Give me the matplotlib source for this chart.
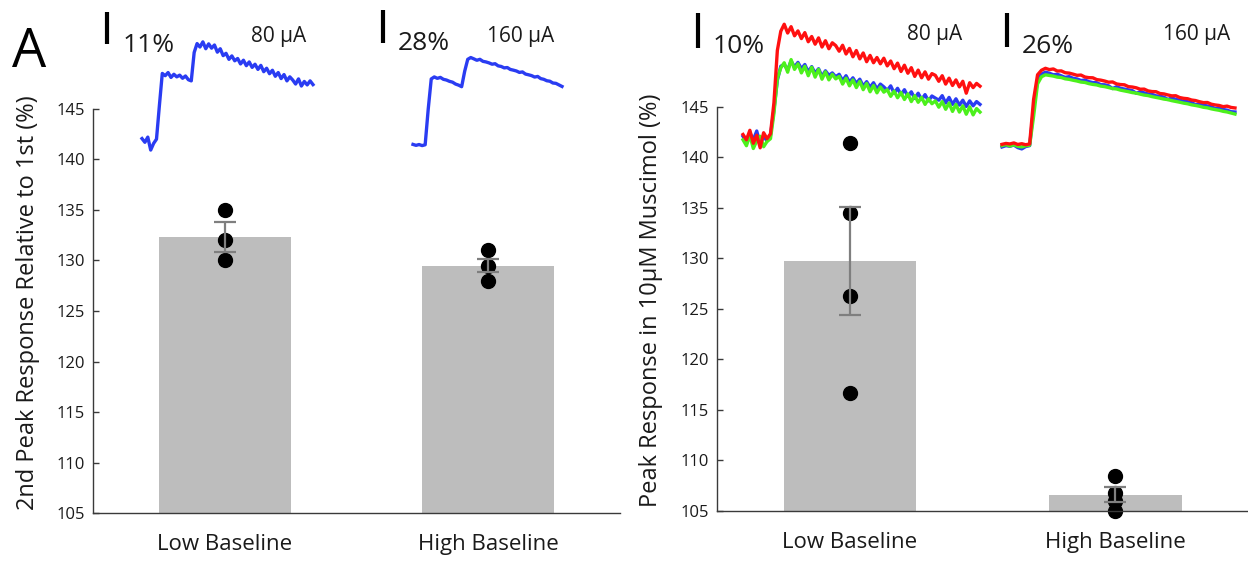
import matplotlib
matplotlib.use('Agg')
import matplotlib.pyplot as plt
from matplotlib.lines import Line2D

plt.rcParams.update({
    'font.family': 'Open Sans',
    'font.size': 12,
    'axes.linewidth': 1.0,
})

W, H = 1248, 561

groups = ['Low Baseline', 'High Baseline']

# left panel: 2nd peak response relative to 1st (%)
left_means = [132.3, 129.5]
left_sem = [1.5, 0.65]
left_low_pts = [135.0, 132.0, 130.0]
left_high_pts = [131.0, 129.5, 128.0]

# right panel: peak response in 10 uM muscimol (%)
right_means = [129.7, 106.6]
right_sem = [5.35, 0.75]
right_low_pts = [141.4, 134.5, 126.3, 116.7]
right_high_pts = [108.5, 106.8, 106.0, 105.0]

y_ticks = [105, 110, 115, 120, 125, 130, 135, 140, 145]

# example traces (% change)
trace_80_low = [0.5, -0.8, 1.0, -3.5, -1.2, 0.3,
                12.0, 23.2,
                22.4, 23.5, 21.8, 22.9, 22.0, 22.6, 21.5, 22.3, 21.0,
                20.6, 30.5, 33.6,
                32.4, 34.2, 31.8, 33.5, 32.0, 33.1,
                30.6, 31.8, 29.4, 30.2, 28.1, 29.3, 27.6,
                28.4, 26.5, 27.8, 25.9, 27.2, 25.3, 26.4, 24.6, 26.0, 23.8, 25.0,
                23.1, 24.3, 22.2, 23.5, 21.4, 22.8, 20.6, 22.0, 20.9,
                19.5, 21.3, 18.8, 20.4, 19.2, 20.6, 19.3]

trace_160_low = [0.5, -0.3, 0.4, -0.5, 0.2,
                 30.0, 55.5, 57.2,
                 56.0, 56.8, 55.2, 54.6, 53.5, 52.8, 51.2, 50.3, 49.0,
                 62.0, 72.0, 73.5,
                 72.4, 71.2, 72.0, 70.3, 69.8, 69.0, 67.9, 68.3, 66.5, 66.0,
                 64.8, 65.1, 63.5, 62.9, 62.2, 61.0, 61.4, 59.6, 59.0, 58.3,
                 57.1, 57.6, 55.8, 55.2, 54.0, 53.6, 52.1, 51.8, 50.5, 49.2]

mus_80_red = [1.0, -0.5, 2.2, -1.5, 0.8, -2.8, 1.5, -0.2, 1.2,
              10.0, 25.0, 30.5,
              32.5, 30.0, 31.8, 29.2, 30.6, 28.4, 30.1, 27.5, 29.0, 26.8, 28.6, 26.0, 27.8, 25.5, 27.2, 26.4,
              24.8, 26.5, 24.0, 25.6, 23.2, 25.0, 22.6, 24.3, 21.8, 23.6, 21.5, 23.0, 21.2, 22.8,
              20.6, 22.0, 19.8, 21.4, 19.0, 20.8, 18.5, 20.1, 17.6, 19.4, 17.2, 18.9, 16.8, 18.4, 17.9,
              16.2, 17.8, 15.4, 17.1, 15.0, 16.6, 14.6, 16.2, 12.8, 15.8, 14.4, 15.6, 14.8]
mus_80_blue = [0.5, -1.0, 1.5, -0.5, 2.0, -1.8, 0.6, -0.9, 0.8,
               8.0, 16.5, 20.5,
               21.0, 19.5, 22.0, 20.3, 21.6, 19.8, 21.0, 18.9, 20.4, 18.5, 19.8, 17.6, 19.2, 17.9, 18.6, 17.5,
               18.2, 16.4, 17.8, 15.9, 17.2, 15.6, 16.8, 14.8, 16.1, 14.5, 15.8, 14.0, 15.4, 14.6,
               13.6, 14.9, 12.8, 14.2, 12.4, 13.8, 11.9, 13.2, 11.3, 12.8, 11.0, 12.4, 10.6, 12.0, 11.4,
               10.8, 12.1, 10.0, 11.6, 9.6, 11.2, 9.4, 10.8, 9.0, 10.6, 9.2, 10.4, 9.6]
mus_80_green = [-0.5, -2.2, 0.8, -3.0, -0.8, 0.5, -2.5, -1.0, -0.2,
                7.0, 17.0, 20.0,
                21.5, 18.8, 22.4, 19.6, 21.2, 18.6, 20.5, 17.8, 20.2, 17.4, 19.6, 16.8, 18.9, 16.6, 18.2, 16.9,
                17.6, 15.4, 17.1, 14.9, 16.6, 14.4, 16.2, 13.8, 15.6, 13.2, 15.0, 12.9, 14.6, 13.1,
                13.8, 11.9, 13.4, 11.5, 13.0, 11.0, 12.6, 10.4, 12.1, 10.2, 11.6, 9.6, 11.2, 9.8, 10.6,
                8.8, 10.4, 8.2, 10.0, 7.6, 9.6, 7.4, 9.2, 6.8, 8.9, 6.6, 8.4, 7.4]

mus_160_red = [0.5, 1.2, 0.8, 1.6, 0.4, 1.0, 0.2, 0.8,
               35.0, 54.0, 57.5,
               59.0, 58.0, 58.5, 56.9, 57.0, 55.6, 55.3, 54.5, 53.6, 53.8,
               52.3, 51.8, 51.7, 50.3, 49.9, 49.2, 48.3, 48.5, 47.0, 46.5,
               46.3, 44.9, 44.6, 44.0, 42.9, 43.0, 41.6, 41.1, 41.0, 39.6,
               39.3, 38.5, 37.8, 37.9, 36.5, 35.9, 35.6, 34.6, 34.2, 33.3,
               32.6, 32.7, 31.4, 30.8, 30.4, 29.5, 29.9, 28.9, 28.5]
mus_160_blue = [-1.5, -0.5, -1.0, 0.0, -2.0, -3.0, -1.2, -0.5,
                28.0, 50.0, 54.5,
                56.0, 55.2, 54.0, 54.4, 53.2, 52.0, 52.6, 51.3, 50.8, 49.6,
                50.0, 48.7, 48.0, 47.9, 46.4, 46.3, 45.5, 43.4, 44.8, 43.6,
                43.0, 42.4, 41.8, 39.8, 41.0, 40.1, 39.2, 38.9, 37.8, 37.5,
                36.8, 35.0, 36.2, 35.1, 34.4, 33.7, 33.3, 32.6, 31.0, 31.5,
                30.7, 30.0, 29.4, 28.0, 28.5, 27.3, 26.8, 25.6, 25.4]
mus_160_green = [-0.5, 0.3, -0.8, 0.2, -1.0, -1.5, -0.6, -0.2,
                 22.0, 47.0, 52.5,
                 54.0, 53.5, 53.0, 52.2, 51.9, 50.9, 50.5, 49.8, 49.2, 48.4,
                 48.1, 47.2, 46.6, 46.2, 45.3, 44.9, 44.2, 43.4, 43.1, 42.2,
                 41.6, 41.0, 40.3, 39.9, 39.1, 38.4, 38.0, 37.2, 36.6, 36.0,
                 35.3, 34.9, 34.1, 33.5, 32.9, 32.2, 31.7, 30.9, 30.4, 29.8,
                 29.0, 28.6, 27.8, 27.2, 26.7, 25.9, 25.4, 24.6, 23.8]

BAR_COLOR = '#bdbdbd'
ERR_COLOR = '#7f7f7f'
AXIS_COLOR = '#3a3a3a'
TEXT_COLOR = '#1a1a1a'
BLUE, RED, GREEN = '#2a3cf2', '#ff1010', '#4cf01c'

fig = plt.figure(figsize=(W / 100, H / 100), dpi=100)


def bar_panel(rect, means, sem, pts_lists, ylabel):
    ax = fig.add_axes(rect)
    x = [1, 2]
    ax.bar(x, means, width=0.5, color=BAR_COLOR, zorder=1)
    for xi, pts in zip(x, pts_lists):
        ax.plot([xi] * len(pts), pts, 'o', color='black', markersize=10,
                zorder=2, clip_on=False)
    ax.errorbar(x, means, yerr=sem, fmt='none', ecolor=ERR_COLOR,
                elinewidth=1.6, capsize=8, capthick=1.6, zorder=3)
    ax.set_xlim(0.5, 2.5)
    ax.set_ylim(105, 145)
    ax.set_yticks(y_ticks)
    ax.set_xticks(x)
    ax.set_xticklabels(groups, fontsize=16, color=TEXT_COLOR)
    ax.tick_params(axis='x', length=0, pad=15)
    ax.tick_params(axis='y', direction='in', length=4, width=1,
                   color=AXIS_COLOR, labelsize=12, labelcolor=TEXT_COLOR, pad=6)
    for side in ['top', 'right']:
        ax.spines[side].set_visible(False)
    for side in ['left', 'bottom']:
        ax.spines[side].set_color(AXIS_COLOR)
    ax.patch.set_alpha(0)
    ax.set_ylabel(ylabel, fontsize=17, color=TEXT_COLOR, va='center')
    ax.yaxis.set_label_coords(-0.124, 0.52)
    return ax


bar_panel([93.3 / W, 1 - 513.3 / H, 526.7 / W, 404.5 / H],
          left_means, left_sem, [left_low_pts, left_high_pts],
          '2nd Peak Response Relative to 1st (%)')
bar_panel([717.3 / W, 1 - 511 / H, 530.7 / W, 404.4 / H],
          right_means, right_sem, [right_low_pts, right_high_pts],
          'Peak Response in 10μM Muscimol (%)')


def trace_inset(x0, x1, base_y, px_per_pct, traces, bar_x, bar_top, bar_pct,
                pct_xy, amp_label, amp_xy):
    y_top, y_bot = 10, 165
    ax = fig.add_axes([x0 / W, 1 - y_bot / H, (x1 - x0) / W, (y_bot - y_top) / H])
    n = len(traces[0][0])
    ax.set_xlim(0, n - 1)
    ax.set_ylim((base_y - y_bot) / px_per_pct, (base_y - y_top) / px_per_pct)
    ax.axis('off')
    for vals, col in traces:
        ax.plot(range(len(vals)), vals, color=col, lw=2.4, clip_on=False)
    # scale bar
    length = bar_pct * px_per_pct
    fig.add_artist(Line2D([bar_x / W, bar_x / W],
                          [1 - bar_top / H, 1 - (bar_top + length) / H],
                          color='black', lw=3, solid_capstyle='butt'))
    fig.text(pct_xy[0] / W, 1 - pct_xy[1] / H, f'{bar_pct}%', fontsize=19,
             va='baseline', color=TEXT_COLOR)
    fig.text(amp_xy[0] / W, 1 - amp_xy[1] / H, amp_label, fontsize=15,
             va='baseline', color=TEXT_COLOR)


trace_inset(142, 313, 140, 2.87, [(trace_80_low, BLUE)],
            107, 12, 11, (123, 52), '80 µA', (251, 42))
trace_inset(413, 562, 145, 1.19, [(trace_160_low, BLUE)],
            383, 10, 28, (398, 50), '160 µA', (487, 42))
trace_inset(743, 980, 138, 3.5,
            [(mus_80_blue, BLUE), (mus_80_green, GREEN), (mus_80_red, RED)],
            698, 13, 10, (713, 53), '80 µA', (907, 40))
trace_inset(1002, 1235, 145, 1.3,
            [(mus_160_blue, BLUE), (mus_160_green, GREEN), (mus_160_red, RED)],
            1007, 13, 26, (1022, 53), '160 µA', (1163, 40))

fig.text(12 / W, 1 - 67 / H, 'A', fontsize=39, va='baseline', color='black')

fig.savefig('out.png', dpi=100)
